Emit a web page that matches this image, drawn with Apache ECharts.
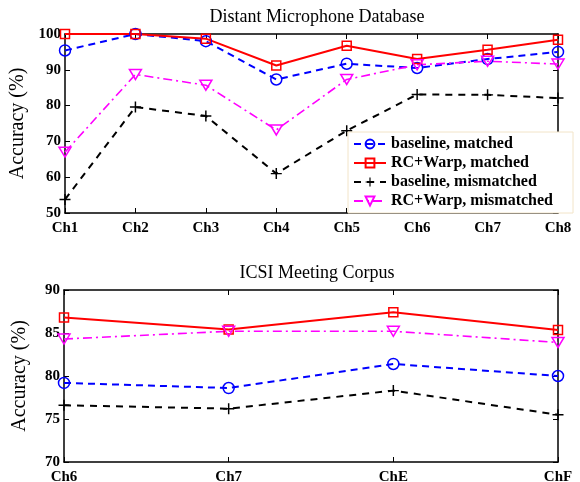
<!DOCTYPE html>
<html>
<head>
<meta charset="utf-8">
<script src="https://cdn.jsdelivr.net/npm/echarts@6/dist/echarts.min.js"></script>
<style>
  html, body { margin: 0; padding: 0; background: #fff; }
  #chart { width: 580px; height: 482px; }
</style>
</head>
<body>
<div id="chart"></div>
<script>
// data
const topChannels = ['Ch1', 'Ch2', 'Ch3', 'Ch4', 'Ch5', 'Ch6', 'Ch7', 'Ch8'];
const topBaseMatched = [95.4, 100, 98.0, 87.3, 91.7, 90.5, 93.0, 95.0];
const topWarpMatched = [100, 100, 98.7, 91.2, 96.7, 93.0, 95.6, 98.4];
const topBaseMismatched = [53.8, 79.6, 77.1, 61.0, 73.0, 83.1, 83.0, 82.1];
const topWarpMismatched = [67.0, 88.7, 85.7, 73.2, 87.3, 91.4, 92.4, 91.6];

const bottomChannels = ['Ch6', 'Ch7', 'ChE', 'ChF'];
const bottomBaseMatched = [79.2, 78.6, 81.4, 80.0];
const bottomWarpMatched = [86.8, 85.4, 87.4, 85.35];
const bottomBaseMismatched = [76.6, 76.2, 78.3, 75.5];
const bottomWarpMismatched = [84.3, 85.2, 85.2, 83.9];

const serif = '"Liberation Serif", "DejaVu Serif", serif';
const plusPath = 'path://M-0.8,-6h1.6v12h-1.6zM-6,-0.8h12v1.6h-12z';
const triPath = 'path://M-6,-4L6,-4L0,6Z';

const styles = {
  'baseline, matched': {
    color: '#0000ff', symbol: 'circle', symbolSize: 11,
    lineType: [7, 5], lineWidth: 2, hollow: true,
  },
  'RC+Warp, matched': {
    color: '#ff0000', symbol: 'rect', symbolSize: 9,
    lineType: 'solid', lineWidth: 2, hollow: true,
  },
  'baseline, mismatched': {
    color: '#000000', symbol: plusPath, symbolSize: 11,
    lineType: [7, 6], lineWidth: 2, hollow: false,
  },
  'RC+Warp, mismatched': {
    color: '#ff00ff', symbol: triPath, symbolSize: 12,
    lineType: [9, 4, 2, 4], lineWidth: 1.6, hollow: true,
  },
};

const makeSeries = (name, data, idx) => {
  const s = styles[name];
  return {
    name,
    type: 'line',
    xAxisIndex: idx * 2,
    yAxisIndex: idx * 2,
    data,
    symbol: s.symbol,
    symbolSize: s.symbolSize,
    symbolKeepAspect: true,
    showAllSymbol: true,
    itemStyle: {
      color: s.hollow ? 'rgba(0,0,0,0)' : s.color,
      borderColor: s.color,
      borderWidth: s.hollow ? 1.5 : 0,
    },
    lineStyle: { color: s.color, width: s.lineWidth, type: s.lineType },
    emphasis: { disabled: true },
    z: 3,
  };
};

const axisLineStyle = { show: true, onZero: false, lineStyle: { color: '#000', width: 1.5 } };
const tickInside = { show: true, inside: true, length: 5, lineStyle: { color: '#000', width: 1 } };
const labelFont = { fontFamily: serif, fontWeight: 'bold', fontSize: 15, color: '#000' };

const xPair = (data, grid) => ([
  {
    type: 'category', gridIndex: grid, data, boundaryGap: false, position: 'bottom',
    axisLine: axisLineStyle,
    axisTick: { ...tickInside, alignWithLabel: true },
    axisLabel: { ...labelFont, margin: 8, interval: 0 },
    splitLine: { show: false },
  },
  {
    type: 'category', gridIndex: grid, data, boundaryGap: false, position: 'top',
    axisLine: axisLineStyle,
    axisTick: tickInside,
    axisLabel: { show: false },
    splitLine: { show: false },
  },
]);

const yPair = (min, max, interval, grid) => ([
  {
    type: 'value', gridIndex: grid, min, max, interval, position: 'left',
    name: 'Accuracy (%)', nameLocation: 'middle', nameGap: 34,
    nameTextStyle: { fontFamily: serif, fontSize: 20, color: '#000' },
    axisLine: axisLineStyle,
    axisTick: tickInside,
    axisLabel: { ...labelFont, margin: 4 },
    splitLine: { show: false },
  },
  {
    type: 'value', gridIndex: grid, min, max, interval, position: 'right',
    axisLine: axisLineStyle,
    axisTick: tickInside,
    axisLabel: { show: false },
    splitLine: { show: false },
  },
]);

const names = Object.keys(styles);

const option = {
  animation: false,
  backgroundColor: '#fff',
  title: [
    {
      text: 'Distant Microphone Database', left: 312, top: 3, textAlign: 'center',
      textStyle: { fontFamily: serif, fontWeight: 'normal', fontSize: 18, color: '#000' },
    },
    {
      text: 'ICSI Meeting Corpus', left: 312, top: 259, textAlign: 'center',
      textStyle: { fontFamily: serif, fontWeight: 'normal', fontSize: 18, color: '#000' },
    },
  ],
  legend: {
    data: names,
    orient: 'vertical',
    left: 348,
    top: 132,
    itemWidth: 32,
    itemHeight: 11,
    itemGap: 3,
    padding: [4, 20, 4, 5],
    backgroundColor: '#fff',
    borderColor: '#f2e4c8',
    borderWidth: 1,
    selectedMode: false,
    textStyle: { fontFamily: serif, fontWeight: 'bold', fontSize: 16, color: '#000' },
    z: 10,
  },
  grid: [
    { left: 65, top: 34, width: 493, height: 179, outerBoundsMode: 'none' },
    { left: 64, top: 290, width: 494, height: 172, outerBoundsMode: 'none' },
  ],
  xAxis: [...xPair(topChannels, 0), ...xPair(bottomChannels, 1)],
  yAxis: [...yPair(50, 100, 10, 0), ...yPair(70, 90, 5, 1)],
  series: [
    makeSeries(names[0], topBaseMatched, 0),
    makeSeries(names[1], topWarpMatched, 0),
    makeSeries(names[2], topBaseMismatched, 0),
    makeSeries(names[3], topWarpMismatched, 0),
    makeSeries(names[0], bottomBaseMatched, 1),
    makeSeries(names[1], bottomWarpMatched, 1),
    makeSeries(names[2], bottomBaseMismatched, 1),
    makeSeries(names[3], bottomWarpMismatched, 1),
  ],
};

const myChart = echarts.init(document.getElementById('chart'), null, { renderer: 'canvas' });
myChart.setOption(option);
</script>
</body>
</html>
